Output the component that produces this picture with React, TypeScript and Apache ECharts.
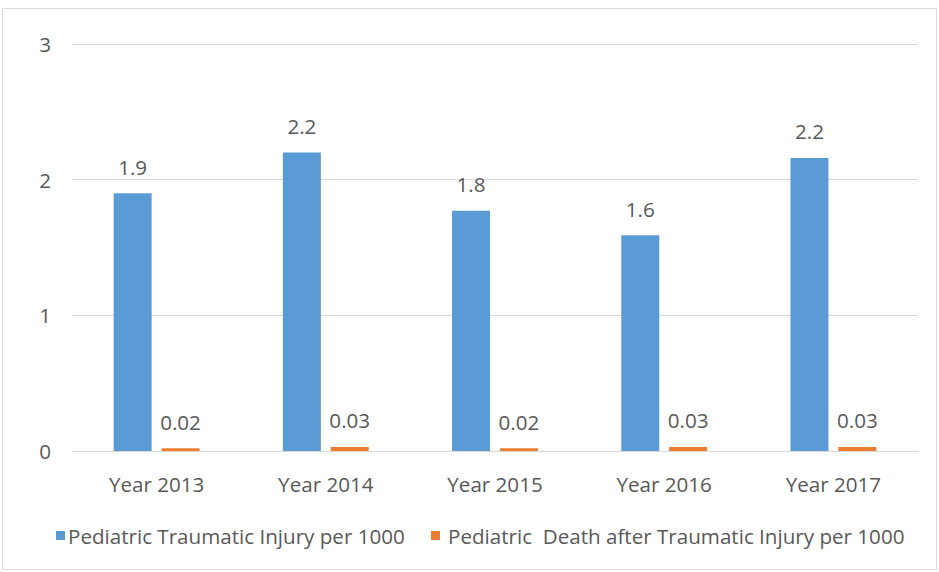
import React, { useEffect, useRef } from "react";
import * as echarts from "echarts";

const categories = ["Year 2013", "Year 2014", "Year 2015", "Year 2016", "Year 2017"];
const injuryName = "Pediatric Traumatic Injury per 1000";
const deathName = "Pediatric  Death after Traumatic Injury per 1000";
const injuryValues = [1.9, 2.2, 1.77, 1.59, 2.16];
const deathValues = [0.02, 0.03, 0.02, 0.03, 0.03];

const FONT = "Open Sans";
const TEXT = "#595959";
const GRID = "#d9d9d9";
const FS = 20.6;

export default function App() {
  const ref = useRef<HTMLDivElement>(null);
  useEffect(() => {
    if (!ref.current) return;
    const chart = echarts.init(ref.current, undefined, { renderer: "svg" });
    chart.setOption({
      animation: false,
      textStyle: { fontFamily: FONT },
      graphic: [
        {
          type: "rect",
          shape: { x: 2.5, y: 8.5, width: 934, height: 561 },
          style: { fill: "none", stroke: GRID, lineWidth: 1 },
          silent: true,
        },
      ],
      grid: { left: 72, right: 21, top: 44, bottom: 121, containLabel: false },
      legend: [
        {
          data: [injuryName],
          left: 56,
          top: 525,
          padding: 0,
          itemWidth: 9,
          itemHeight: 9,
          icon: "rect",
          textStyle: { fontFamily: FONT, fontSize: FS, color: TEXT, padding: [0, 0, 0, -2] },
        },
        {
          data: [deathName],
          left: 431,
          top: 525,
          padding: 0,
          itemWidth: 9,
          itemHeight: 9,
          icon: "rect",
          textStyle: { fontFamily: FONT, fontSize: FS, color: TEXT, padding: [0, 0, 0, 3] },
        },
      ],
      xAxis: {
        type: "category",
        data: categories,
        axisLine: { lineStyle: { color: GRID, width: 1 } },
        axisTick: { show: false },
        axisLabel: { color: TEXT, fontFamily: FONT, fontSize: FS, margin: 22 },
      },
      yAxis: {
        type: "value",
        min: 0,
        max: 3,
        interval: 1,
        axisLine: { show: false },
        axisTick: { show: false },
        axisLabel: { color: TEXT, fontFamily: FONT, fontSize: FS, margin: 21 },
        splitLine: { lineStyle: { color: GRID, width: 1 } },
      },
      series: [
        {
          name: injuryName,
          type: "bar",
          data: injuryValues,
          barWidth: 38,
          barGap: "26%",
          itemStyle: { color: "#5b9bd5" },
          label: {
            show: true,
            position: "top",
            distance: 16,
            color: TEXT,
            fontFamily: FONT,
            fontSize: FS,
            formatter: (p: any) => Number(p.value).toFixed(1),
          },
        },
        {
          name: deathName,
          type: "bar",
          data: deathValues,
          barWidth: 38,
          itemStyle: { color: "#ed7d31" },
          label: {
            show: true,
            position: "top",
            distance: 16,
            color: TEXT,
            fontFamily: FONT,
            fontSize: FS,
            formatter: (p: any) => Number(p.value).toFixed(2),
          },
        },
      ],
    });
    return () => chart.dispose();
  }, []);
  return (
    <div
      ref={ref}
      style={{ position: "fixed", left: 0, top: 0, width: 939, height: 572, background: "#fff" }}
    />
  );
}
